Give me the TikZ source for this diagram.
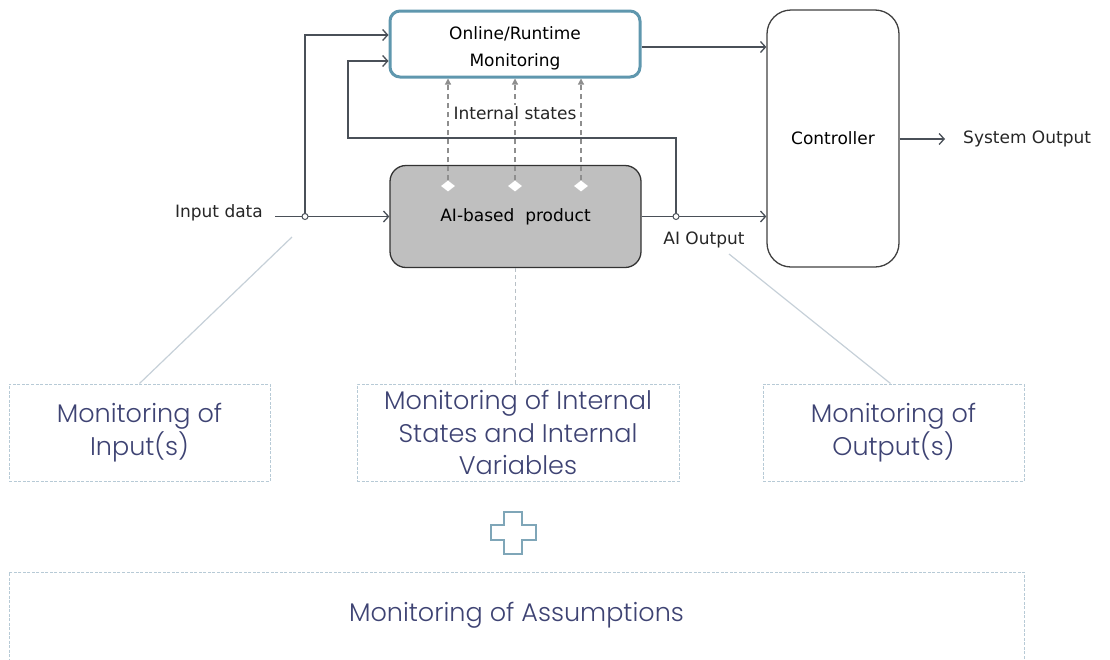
\documentclass[tikz,border=0pt]{standalone}
\usepackage{fontspec}
\setmainfont{DejaVu Sans}
\newfontfamily\gothic{Poppins Light}
\usetikzlibrary{arrows.meta,shapes.geometric}
\definecolor{tealb}{HTML}{5F97AE}
\definecolor{linec}{HTML}{4A5058}
\definecolor{prodfill}{HTML}{BFBFBF}
\definecolor{dashc}{HTML}{8E8E8E}
\definecolor{boxc}{HTML}{B7CAD6}
\definecolor{leadc}{HTML}{C6D0D8}
\definecolor{txtc}{HTML}{3E4373}
\definecolor{plusc}{HTML}{7FA6B8}
\begin{document}
\begin{tikzpicture}[x=1pt,y=-1pt,
  conn/.style={draw=linec, line width=1.3pt, -{Straight Barb[length=5pt,width=11pt,line width=1.3pt]}},
  lbl/.style={font=\fontsize{17}{20}\selectfont, text=black!85, inner sep=2pt},
  monbox/.style={draw=tealb, line width=3pt, rounded corners=10pt, minimum width=250pt, minimum height=66pt, align=center, font=\fontsize{17}{27}\selectfont, fill=white},
  prodbox/.style={draw=black!80, line width=1.3pt, fill=prodfill, rounded corners=16pt, minimum width=251pt, minimum height=102pt, font=\fontsize{17}{20}\selectfont},
  ctrlbox/.style={draw=black!75, line width=1.3pt, rounded corners=24pt, minimum width=132pt, minimum height=257pt, font=\fontsize{17}{20}\selectfont},
  junc/.style={circle, draw=linec, fill=white, line width=1pt, inner sep=0pt, minimum size=6pt},
  dia/.style={diamond, fill=white, inner sep=0pt, minimum width=14pt, minimum height=11pt},
  stateline/.style={draw=dashc, line width=1.2pt, dash pattern=on 5pt off 4pt, -{Triangle[length=6pt,width=6pt]}},
  mbox/.style={draw=boxc, line width=1pt, dash pattern=on 3pt off 1.5pt, align=center, text=txtc, font=\gothic\fontsize{25.5}{32.5}\selectfont},
  lead/.style={draw=leadc, line width=1.2pt},
  leaddash/.style={draw=leadc!80!gray, line width=1.2pt, dash pattern=on 4pt off 3pt}
]
\useasboundingbox (0,0) rectangle (1110,659);
\begin{scope}
\clip (0,0) rectangle (1110,659);

% main blocks
\node[monbox] (mon) at (515,44) {\rule{0pt}{22pt}Online/Runtime\\Monitoring};
\node[prodbox] (prod) at (515.5,216.5) {AI-based\ \ product};
\node[ctrlbox] (ctrl) at (833,138.5) {Controller};

% labels
\node[lbl, anchor=east] (indata) at (265,213) {Input data};
\node[lbl, anchor=west] (sysout) at (961,139) {System Output};
\node[lbl] (aiout) at (704,240) {AI Output};

% helper coordinates
\coordinate (instart) at (275,216.5);
\coordinate (j1) at (305,216.5);
\coordinate (j2) at (676,216.5);
\coordinate (fb) at (348,138);
\coordinate (y35) at (0,35);
\coordinate (y61) at (0,61);
\coordinate (y47) at (0,47);

% connectors
\draw[conn] (instart) -- (prod.west);
\draw[conn] (j1) |- (mon.west |- y35);
\draw[conn] (j2) |- (fb) |- (mon.west |- y61);
\draw[conn] (mon.east |- y47) -- (ctrl.west |- y47);
\draw[conn] (prod.east) -- (ctrl.west |- prod.east);
\draw[conn] (ctrl.east |- sysout.west) -- ([xshift=-16pt]sysout.west);

\node[junc] (jc1) at (j1) {};
\node[junc] (jc2) at (j2) {};

% internal states
\node[dia] (d1) at (448,186) {};
\node[dia] (d2) at (515,186) {};
\node[dia] (d3) at (581,186) {};
\draw[stateline] (d1.north) -- (d1 |- mon.south);
\draw[stateline] (d2.north) -- (d2 |- mon.south);
\draw[stateline] (d3.north) -- (d3 |- mon.south);
\node[lbl, fill=white, inner sep=1pt] (intst) at (515,113) {Internal states};

% monitoring boxes
\node[mbox, minimum width=261pt, minimum height=97pt] (inbox) at (139.5,432.5) {Monitoring of\\Input(s)};
\node[mbox, minimum width=322pt, minimum height=97pt] (intbox) at (518,432.5) {Monitoring of Internal\\States and Internal\\Variables};
\node[mbox, minimum width=261pt, minimum height=97pt] (outbox) at (893.5,432.5) {Monitoring of\\Output(s)};
\node[mbox, minimum width=1015pt, minimum height=120pt, text depth=40pt] (asbox) at (516.5,632) {Monitoring of Assumptions};

% leader lines
\coordinate (lin) at (292,237);
\coordinate (lout) at (729,254);
\draw[lead] (lin) -- (inbox.north);
\draw[lead] (lout) -- ([xshift=-3pt]outbox.north);
\draw[leaddash] (prod.south) -- (prod.south |- intbox.north);

% plus sign
\draw[draw=plusc, line width=1.6pt]
  (504,512) -- (522,512) -- (522,525) -- (536,525) -- (536,540) -- (522,540)
  -- (522,554) -- (504,554) -- (504,540) -- (491,540) -- (491,525) -- (504,525) -- cycle;
\end{scope}
\end{tikzpicture}
\end{document}
